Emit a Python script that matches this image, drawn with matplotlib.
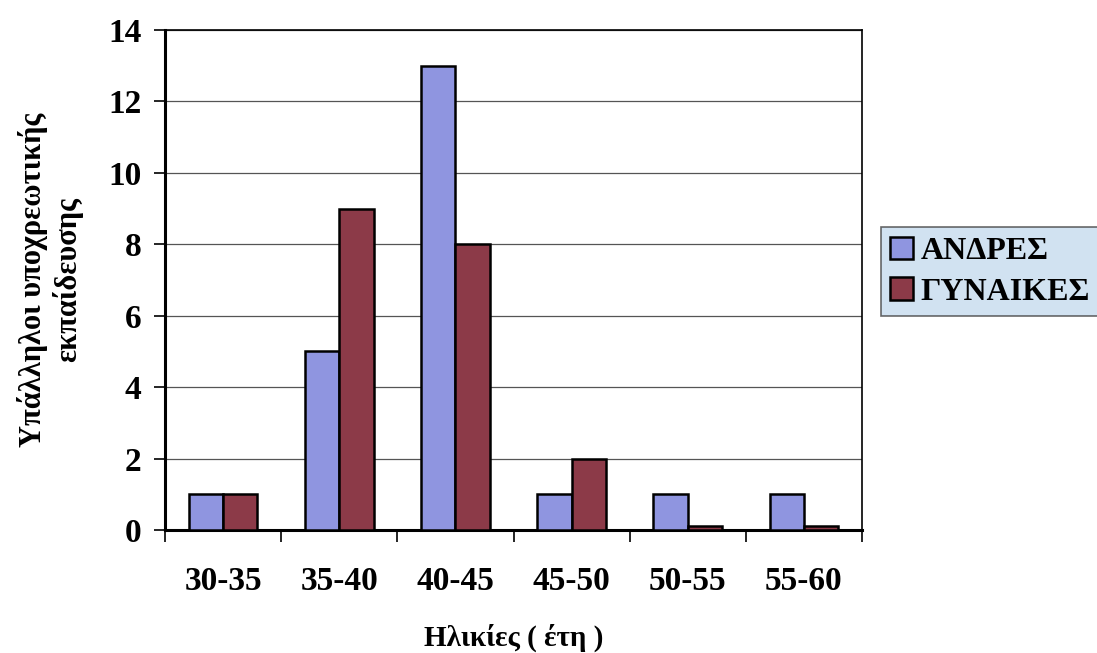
import matplotlib
matplotlib.use("Agg")
import matplotlib.pyplot as plt
import numpy as np

# data
categories = ["30-35", "35-40", "40-45", "45-50", "50-55", "55-60"]
men = [1, 5, 13, 1, 1, 1]
women = [1, 9, 8, 2, 0.1, 0.1]
series_names = ["ΑΝΔΡΕΣ", "ΓΥΝΑΙΚΕΣ"]

plt.rcParams['font.family'] = ['Liberation Serif', 'DejaVu Serif']
plt.rcParams['font.weight'] = 'bold'

fig = plt.figure(figsize=(10.97, 6.53), dpi=100)
ax = fig.add_axes([0.1504, 0.1884, 0.6354, 0.7656])

x = np.arange(len(categories))
w = 0.295
ax.bar(x - w / 2, men, w, color="#8f95e0", edgecolor="black", linewidth=1.8,
       label=series_names[0], zorder=3)
ax.bar(x + w / 2, women, w, color="#8c3a48", edgecolor="black", linewidth=1.8,
       label=series_names[1], zorder=3)

ax.set_xlim(-0.5, len(categories) - 0.5)
ax.set_ylim(0, 14)
ax.set_yticks(range(0, 15, 2))
ax.yaxis.grid(True, color="#555555", linewidth=0.9)
ax.set_axisbelow(True)

# x ticks at category boundaries, labels centred under groups
ax.set_xticks(np.arange(-0.5, len(categories)), minor=False)
ax.set_xticklabels([])
ax.set_xticks(x, minor=True)
ax.set_xticklabels(categories, minor=True, fontsize=24, fontweight='bold')
ax.tick_params(axis='x', which='minor', length=0, pad=26)
ax.tick_params(axis='x', which='major', length=8.5, width=1.2)
ax.tick_params(axis='y', length=8, width=1.2, labelsize=24, pad=9)
for lab in ax.get_yticklabels():
    lab.set_fontweight('bold')

for s in ax.spines.values():
    s.set_linewidth(1.2)
ax.spines['left'].set_linewidth(2.2)
ax.spines['bottom'].set_linewidth(2.2)

ax.set_xlabel("Ηλικίες ( έτη )", fontsize=21, fontweight='bold', labelpad=19)
ax.set_ylabel("Υπάλληλοι υποχρεωτικής\nεκπαίδευσης", fontsize=22,
              fontweight='bold', labelpad=18, linespacing=1.15)

leg = fig.legend(loc='upper left', bbox_to_anchor=(0.803, 0.652),
                 fontsize=23, frameon=True, fancybox=False, handlelength=0.7,
                 handleheight=0.7, handletextpad=0.25, borderpad=0.3,
                 labelspacing=0.35, borderaxespad=0)
leg.get_frame().set_facecolor("#c6dbee")
leg.get_frame().set_edgecolor("#444444")
leg.get_frame().set_linewidth(1.2)
for t in leg.get_texts():
    t.set_fontweight('bold')

fig.savefig("out.png", dpi=100)
